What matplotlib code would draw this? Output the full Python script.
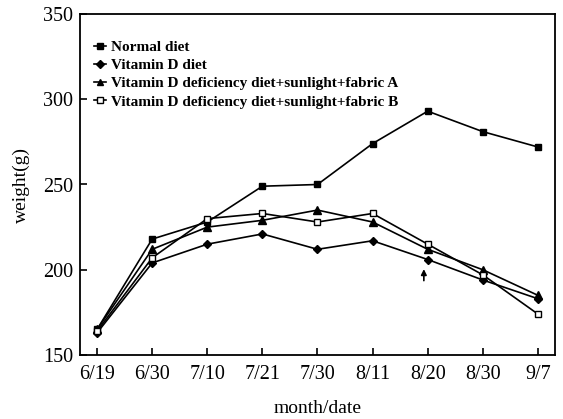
import matplotlib
matplotlib.use("Agg")
import matplotlib.pyplot as plt

dates = ["6/19", "6/30", "7/10", "7/21", "7/30", "8/11", "8/20", "8/30", "9/7"]
normal = [165, 218, 228, 249, 250, 274, 293, 281, 272]
vitd = [163, 204, 215, 221, 212, 217, 206, 194, 183]
fabric_a = [165, 212, 225, 229, 235, 228, 212, 200, 185]
fabric_b = [164, 207, 230, 233, 228, 233, 215, 197, 174]
labels = ["Normal diet", "Vitamin D diet",
          "Vitamin D deficiency diet+sunlight+fabric A",
          "Vitamin D deficiency diet+sunlight+fabric B"]

plt.rcParams['font.family'] = ['Liberation Serif', 'DejaVu Serif']

fig = plt.figure(figsize=(5.63, 4.19), dpi=100)
ax = fig.add_axes([80/563, 1-355/419, 475/563, 341/419])

x = list(range(len(dates)))
kw = dict(color='black', lw=1.2)
ax.plot(x, normal, marker='s', ms=5, mfc='black', label=labels[0], **kw)
ax.plot(x, vitd, marker='D', ms=4.5, mfc='black', label=labels[1], **kw)
ax.plot(x, fabric_a, marker='^', ms=5.5, mfc='black', label=labels[2], **kw)
ax.plot(x, fabric_b, marker='s', ms=5, mfc='white', label=labels[3], **kw)

ax.annotate('', xy=(6 - 0.07, 202), xytext=(6 - 0.07, 192),
            arrowprops=dict(arrowstyle='-|>', color='black', lw=1.2, mutation_scale=8))

ax.set_xlim(-0.31, 8.31)
ax.set_ylim(150, 350)
ax.set_xticks(x)
ax.set_xticklabels(dates)
ax.set_yticks([150, 200, 250, 300, 350])
ax.tick_params(axis='both', direction='in', length=5, width=1.2, labelsize=14.5)
ax.tick_params(axis='x', pad=7)
ax.tick_params(axis='y', pad=5)
for s in ax.spines.values():
    s.set_linewidth(1.3)

ax.set_xlabel('month/date', fontsize=14, labelpad=12)
ax.set_ylabel('weight(g)', fontsize=14, labelpad=9)

leg = ax.legend(loc='upper left', bbox_to_anchor=(0.01, 0.95), frameon=False,
                handlelength=0.8, handletextpad=0.3, labelspacing=0.3,
                prop=dict(family='Liberation Serif', weight='bold', size=11),
                borderaxespad=0.2)
for h in leg.legend_handles:
    h.set_markersize(4)

fig.savefig('out.png', dpi=100)
